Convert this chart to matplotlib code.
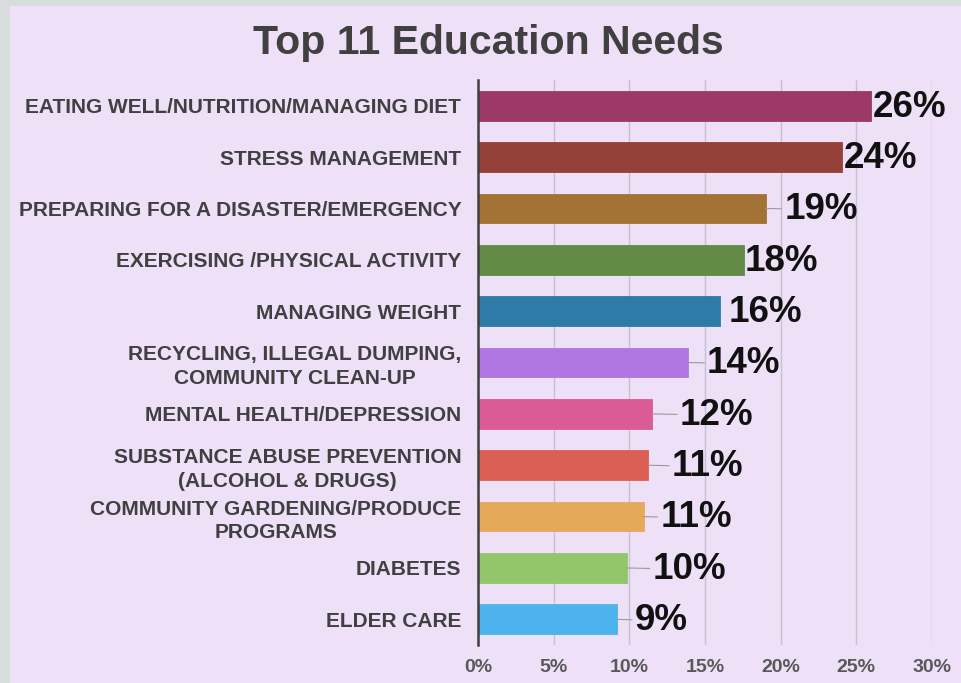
import matplotlib
matplotlib.use("Agg")
import matplotlib.pyplot as plt
from matplotlib.patches import Rectangle

plt.rcParams["font.family"] = ["Liberation Sans", "DejaVu Sans"]

# 数据：按图中从上到下
needs = [
    "EATING WELL/NUTRITION/MANAGING DIET",
    "STRESS MANAGEMENT",
    "PREPARING FOR A DISASTER/EMERGENCY",
    "EXERCISING /PHYSICAL ACTIVITY",
    "MANAGING WEIGHT",
    "RECYCLING, ILLEGAL DUMPING,\nCOMMUNITY CLEAN-UP",
    "MENTAL HEALTH/DEPRESSION",
    "SUBSTANCE ABUSE PREVENTION\n(ALCOHOL & DRUGS)",
    "COMMUNITY GARDENING/PRODUCE\nPROGRAMS",
    "DIABETES",
    "ELDER CARE",
]
pct = [26.0, 24.05, 19.0, 17.55, 16.0, 13.9, 11.5, 11.25, 10.95, 9.87, 9.17]
pct_labels = ["26%", "24%", "19%", "18%", "16%", "14%", "12%", "11%", "11%", "10%", "9%"]
xticks = [0, 5, 10, 15, 20, 25, 30]

colors = ["#9B3A66", "#954139", "#A27335", "#648A47", "#2E7BA8", "#B077E3",
          "#DB5B97", "#DC5F55", "#E5A95A", "#93C66A", "#4DB3EC"]
# 标签离柱端的偏移（pt），以及是否画引线
label_gap = [1.0, 1.5, 13.5, 1.0, 6.0, 13.5, 20, 17, 12, 18, 13]
leader = [False, False, True, False, False, True, True, True, True, True, True]

fig = plt.figure(figsize=(9.61, 6.83), dpi=100)
fig.patch.set_facecolor("#D9DCDC")
bg = Rectangle((10 / 961, 0), 1, 1 - 6 / 683, transform=fig.transFigure,
               facecolor="#EDE0F7", edgecolor="none", zorder=-10)
fig.add_artist(bg)

ax = fig.add_axes([478 / 961, 1 - 645 / 683, (932 - 478) / 961, (645 - 80) / 683])
ax.set_facecolor("none")

y = list(range(len(needs)))
ax.barh(y, pct, height=0.58, color=colors, edgecolor=colors, linewidth=0.6, zorder=3)

for i, (v, lab, gap, ld) in enumerate(zip(pct, pct_labels, label_gap, leader)):
    ap = dict(arrowstyle="-", color="#9A9A9A", lw=0.8, shrinkA=0, shrinkB=0) if ld else None
    ax.annotate(lab, xy=(v, i), xytext=(gap, -1), textcoords="offset points",
                ha="left", va="center", fontsize=26.5, fontweight="bold", color="#111111",
                arrowprops=ap, zorder=4)

ax.set_xlim(0, 30)
ax.set_ylim(len(needs) - 0.5, -0.5)
ax.set_xticks(xticks)
ax.set_xticklabels([f"{t}%" for t in xticks])
ax.set_yticks(y)
ax.set_yticklabels(needs, multialignment="center", linespacing=1.3)

ax.grid(axis="x", color="#C9C0D3", lw=1.0, zorder=0)
for s in ["top", "right", "bottom"]:
    ax.spines[s].set_visible(False)
ax.spines["left"].set_color("#404040")
ax.spines["left"].set_linewidth(1.8)
ax.spines["left"].set_zorder(5)

ax.tick_params(axis="y", length=0, pad=12, labelsize=15, labelcolor="#404040")
ax.tick_params(axis="x", length=0, pad=10, labelsize=14, labelcolor="#595959")
for t in ax.get_yticklabels() + ax.get_xticklabels():
    t.set_fontweight("bold")

fig.text(0.508, 0.937, "Top 11 Education Needs", ha="center", va="center",
         fontsize=29.5, fontweight="bold", color="#404040")

fig.savefig("out.png", dpi=100, facecolor=fig.get_facecolor())
